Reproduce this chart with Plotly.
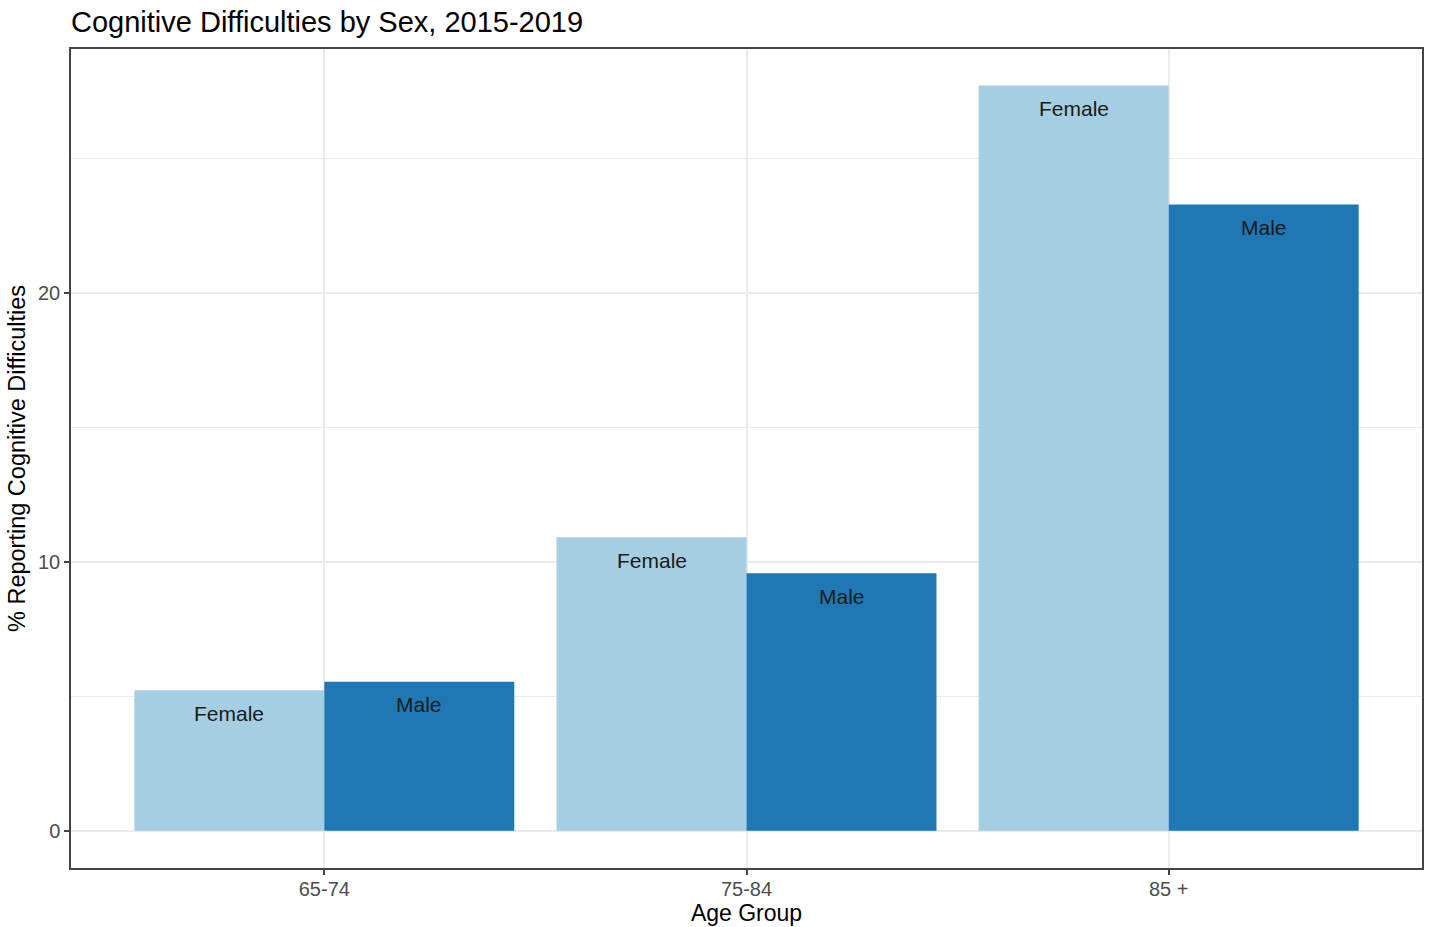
import plotly.graph_objects as go

age_groups = ["65-74", "75-84", "85 +"]
female_pct = [5.23, 10.92, 27.73]
male_pct = [5.54, 9.58, 23.30]
sexes = ["Female", "Male"]
colors = {"Female": "#A6CEE3", "Male": "#1F78B4"}

FONT = "Liberation Sans, Arial, sans-serif"

fig = go.Figure()
for sex, vals in zip(sexes, [female_pct, male_pct]):
    fig.add_trace(go.Bar(
        x=age_groups, y=vals, name=sex,
        marker=dict(color=colors[sex], line=dict(width=0)),
        showlegend=False, hoverinfo="x+y+name",
    ))

# in-bar labels near the top of each bar (ggplot vjust style)
bar_half_px = 95
for sex, vals, shift in zip(sexes, [female_pct, male_pct], [-bar_half_px, bar_half_px]):
    for cat, v in zip(age_groups, vals):
        fig.add_annotation(
            x=cat, y=v, xref="x", yref="y", text=sex, showarrow=False,
            xshift=shift, yshift=-23, yanchor="middle", xanchor="center",
            font=dict(family=FONT, size=21, color="#1a1a1a"),
        )

fig.update_layout(
    width=1429, height=927,
    margin=dict(l=71, r=5, t=49, b=59),
    paper_bgcolor="white", plot_bgcolor="white",
    barmode="group", bargap=0.1, bargroupgap=0,
    font=dict(family=FONT),
    title=dict(
        text="Cognitive Difficulties by Sex, 2015-2019",
        x=0.0497, xanchor="left", xref="container",
        y=1 - 22 / 927, yanchor="middle", yref="container",
        font=dict(family=FONT, size=29, color="#000000"),
    ),
    xaxis=dict(
        range=[-0.6, 2.6],
        showline=True, mirror=True, linecolor="#444444", linewidth=1.5,
        showgrid=True, gridcolor="#EBEBEB", gridwidth=1.5,
        ticks="outside", ticklen=5, tickwidth=1.5, tickcolor="#444444",
        ticklabelstandoff=-3,
        tickfont=dict(family=FONT, size=20, color="#4D4D4D"),
        title=dict(text="Age Group", standoff=5,
                   font=dict(family=FONT, size=23, color="#000000")),
        zeroline=False,
    ),
    yaxis=dict(
        range=[-1.385, 29.085],
        tickvals=[0, 10, 20],
        showline=True, mirror=True, linecolor="#444444", linewidth=1.5,
        showgrid=True, gridcolor="#EBEBEB", gridwidth=1.5,
        minor=dict(tickvals=[5, 15, 25], showgrid=True, gridcolor="#EBEBEB", gridwidth=1, ticks=""),
        ticks="outside", ticklen=5, tickwidth=1.5, tickcolor="#444444",
        tickfont=dict(family=FONT, size=20, color="#4D4D4D"),
        title=dict(text="% Reporting Cognitive Difficulties", standoff=6,
                   font=dict(family=FONT, size=23.5, color="#000000")),
        zeroline=False,
    ),
)

fig.write_html("out.html", config={"displayModeBar": False},
               post_script="document.body.style.margin='0';document.body.style.overflow='hidden';")
